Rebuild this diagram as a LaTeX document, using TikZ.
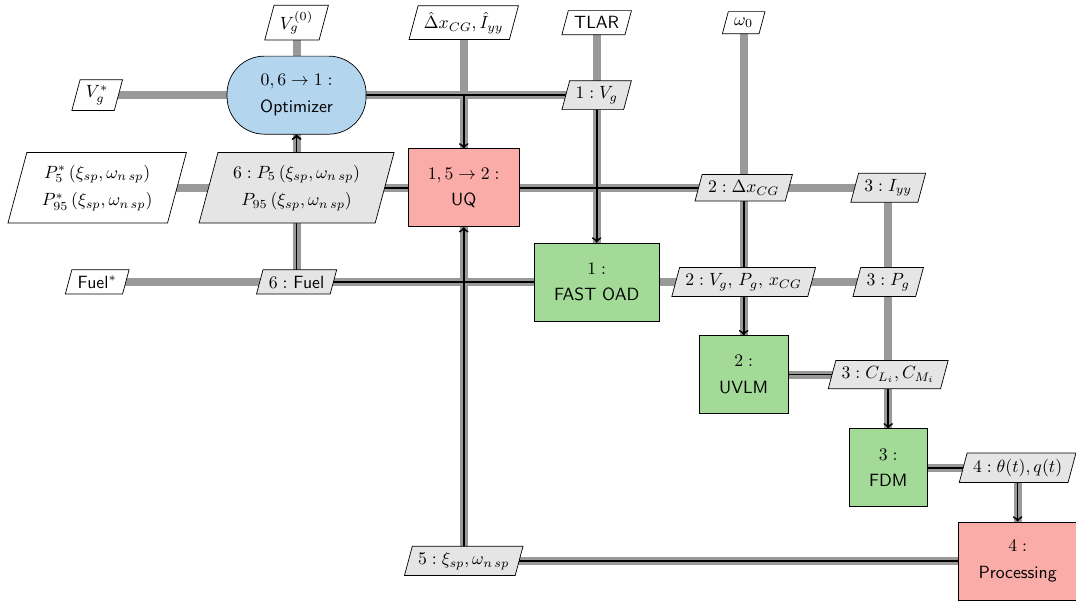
\documentclass[tikz,border=0pt]{standalone}
\usepackage{amsmath}
\usepackage{tikz}
\usetikzlibrary{arrows}
\usetikzlibrary{shapes.geometric}
\usetikzlibrary{backgrounds}
\usepackage{xcolor}
\definecolor{optblue}{RGB}{180,213,238}
\definecolor{uqred}{RGB}{250,173,168}
\definecolor{fungreen}{RGB}{163,218,151}
\tikzset{
  block/.style={draw, align=center, inner xsep=11.3pt, minimum height=1.55cm},
  optim/.style={block, fill=optblue, rounded corners=0.74cm, minimum width=2.76cm},
  func/.style={block, fill=fungreen},
  uqbox/.style={block, fill=uqred},
  data/.style={draw, trapezium, trapezium left angle=75, trapezium right angle=105,
    fill=black!10, align=center},
  io/.style={data, fill=white},
  twoline/.style={inner xsep=8.5pt, inner ysep=7pt},
  dataline/.style={draw=black!40, line width=4.5pt},
  procline/.style={draw=black, line width=1pt, ->}
}
\newcommand{\wsp}{\omega_{n\,sp}}

\begin{document}
\begin{tikzpicture}
\useasboundingbox (0,0) rectangle (21.37,-11.93);
% blocks
\node[optim] (opt) at (5.89,-1.89) {$0,6 \rightarrow 1:$\\[3pt]\textsf{Optimizer}};
\node[uqbox] (uq) at (9.21,-3.73) {$1,5 \rightarrow 2:$\\[3pt]\textsf{UQ}};
\node[func] (fast) at (11.85,-5.60) {$1:$\\[3pt]\textsf{FAST OAD}};
\node[func] (uvlm) at (14.77,-7.44) {$2:$\\[3pt]\textsf{UVLM}};
\node[func] (fdm) at (17.64,-9.29) {$3:$\\[3pt]\textsf{FDM}};
\node[uqbox] (proc) at (20.21,-11.14) {$4:$\\[3pt]\textsf{Processing}};
% exchanged data
\node[data] (vgone) at (11.85,-1.89) {$1: V_g$};
\node[data, twoline] (pcent) at (5.89,-3.73)
  {$6: P_5\,(\xi_{sp}, \wsp)$\\[3.5pt]$P_{95}\,(\xi_{sp}, \wsp)$};
\node[data] (dxcg) at (14.77,-3.73) {$2: \Delta x_{CG}$};
\node[data] (iyy) at (17.64,-3.73) {$3: I_{yy}$};
\node[data] (fuel) at (5.89,-5.60) {$6:$ \textsf{Fuel}};
\node[data] (vpx) at (14.77,-5.60) {$2: V_g$, $P_g$, $x_{CG}$};
\node[data] (pg) at (17.64,-5.60) {$3: P_g$};
\node[data] (clcm) at (17.64,-7.44) {$3: C_{L_i}, C_{M_i}$};
\node[data] (theta) at (20.21,-9.29) {$4: \theta(t), q(t)$};
\node[data] (xi) at (9.21,-11.14) {$5: \xi_{sp}, \wsp$};
% inputs and outputs
\node[io] (vgzero) at (5.89,-0.45) {$V_g^{(0)}$};
\node[io] (dxhat) at (9.21,-0.45) {$\hat{\Delta} x_{CG}, \hat{I}_{yy}$};
\node[io] (tlar) at (11.85,-0.45) {\textsf{TLAR}};
\node[io] (omega) at (14.77,-0.45) {$\omega_0$};
\node[io] (vgstar) at (1.93,-1.89) {$V_g^*$};
\node[io, twoline] (pstar) at (1.93,-3.73)
  {$P_5^*\,(\xi_{sp}, \wsp)$\\[3.5pt]$P_{95}^*\,(\xi_{sp}, \wsp)$};
\node[io] (fuelstar) at (1.93,-5.60) {\textsf{Fuel}$^*$};
\begin{scope}[on background layer]
% data lines
\draw[dataline] (vgzero.center) -- (opt.center);
\draw[dataline] (dxhat.center) -- (uq.center);
\draw[dataline] (tlar.center) -- (vgone.center) -- (fast.center);
\draw[dataline] (omega.center) -- (dxcg.center) -- (vpx.center) -- (uvlm.center);
\draw[dataline] (vgstar.center) -- (opt.center) -- (vgone.center);
\draw[dataline] (pstar.center) -- (pcent.center) -- (uq.center) -- (dxcg.center) -- (iyy.center);
\draw[dataline] (opt.center) -- (pcent.center) -- (fuel.center);
\draw[dataline] (fuelstar.center) -- (fuel.center) -- (fast.center) -- (vpx.center) -- (pg.center);
\draw[dataline] (iyy.center) -- (pg.center) -- (clcm.center) -- (fdm.center);
\draw[dataline] (uvlm.center) -- (clcm.center);
\draw[dataline] (fdm.center) -- (theta.center) -- (proc.center);
\draw[dataline] (proc.center) -- (xi.center) -- (uq.center);
% process flow
\draw[procline] (opt) -| (uq);
\draw[procline] (opt) -| (fast);
\draw[procline] (uq) -| (opt);
\draw[procline] (fast) -| (opt);
\draw[procline] (uq) -| (uvlm);
\draw[procline] (uvlm) -| (fdm);
\draw[procline] (fdm) -| (proc);
\draw[procline] (proc) -| (uq);
\end{scope}
\end{tikzpicture}
\end{document}
